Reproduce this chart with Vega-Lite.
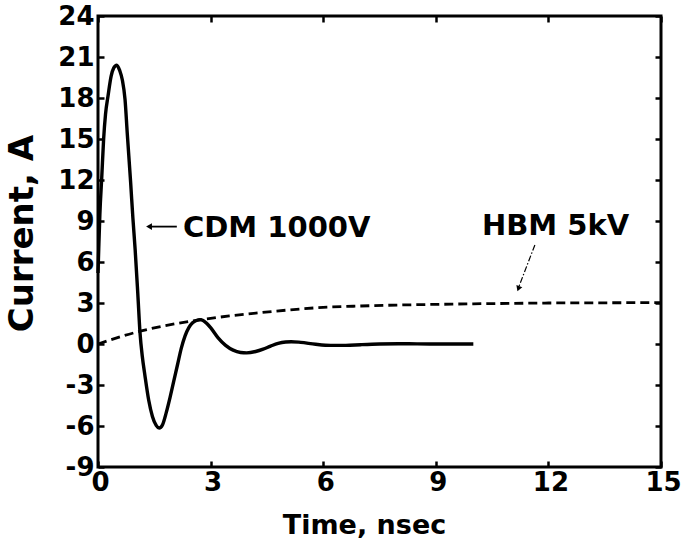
{
  "$schema": "https://vega.github.io/schema/vega-lite/v6.json",
  "width": 563,
  "height": 451,
  "autosize": {"type": "none"},
  "padding": {"left": 98, "top": 16, "right": 20, "bottom": 83},
  "background": "white",
  "config": {
    "view": {"stroke": "black", "strokeWidth": 3},
    "axis": {
      "labelFont": "DejaVu Sans",
      "labelFontWeight": "bold",
      "labelFontSize": 26,
      "labelColor": "black",
      "titleFont": "DejaVu Sans",
      "titleFontWeight": "bold",
      "titleColor": "black",
      "grid": false,
      "domain": false,
      "tickColor": "black",
      "tickWidth": 2.5,
      "tickSize": -6
    }
  },
  "datasets": {
    "cdm": [
      {"t": 0, "i": 5.2}, {"t": 0.02, "i": 7.0}, {"t": 0.05, "i": 9.5}, {"t": 0.1, "i": 12.2},
      {"t": 0.15, "i": 15.0}, {"t": 0.2, "i": 16.8}, {"t": 0.27, "i": 18.2}, {"t": 0.35, "i": 19.6},
      {"t": 0.42, "i": 20.2}, {"t": 0.5, "i": 20.4}, {"t": 0.58, "i": 20.0}, {"t": 0.65, "i": 19.3},
      {"t": 0.72, "i": 17.9}, {"t": 0.78, "i": 15.4}, {"t": 0.87, "i": 11.8}, {"t": 0.93, "i": 9.2},
      {"t": 0.99, "i": 6.9}, {"t": 1.06, "i": 3.7}, {"t": 1.12, "i": 0.8}, {"t": 1.18, "i": -0.9},
      {"t": 1.25, "i": -2.3}, {"t": 1.35, "i": -4.1}, {"t": 1.45, "i": -5.3}, {"t": 1.55, "i": -5.95},
      {"t": 1.63, "i": -6.15}, {"t": 1.72, "i": -5.9}, {"t": 1.82, "i": -5.0}, {"t": 1.92, "i": -3.9},
      {"t": 2.02, "i": -2.7}, {"t": 2.12, "i": -1.5}, {"t": 2.22, "i": -0.3}, {"t": 2.32, "i": 0.6},
      {"t": 2.42, "i": 1.2}, {"t": 2.52, "i": 1.55}, {"t": 2.62, "i": 1.72}, {"t": 2.72, "i": 1.78},
      {"t": 2.8, "i": 1.72}, {"t": 2.9, "i": 1.5}, {"t": 3.0, "i": 1.2}, {"t": 3.2, "i": 0.45},
      {"t": 3.4, "i": -0.1}, {"t": 3.6, "i": -0.45}, {"t": 3.8, "i": -0.62}, {"t": 3.96, "i": -0.65},
      {"t": 4.2, "i": -0.55}, {"t": 4.4, "i": -0.38}, {"t": 4.6, "i": -0.15}, {"t": 4.8, "i": 0.05},
      {"t": 5.0, "i": 0.15}, {"t": 5.15, "i": 0.17}, {"t": 5.4, "i": 0.12}, {"t": 5.8, "i": -0.02},
      {"t": 6.2, "i": -0.1}, {"t": 6.6, "i": -0.1}, {"t": 7.0, "i": -0.05}, {"t": 7.5, "i": 0.0},
      {"t": 8.0, "i": 0.02}, {"t": 8.5, "i": 0.01}, {"t": 9.0, "i": 0.0}, {"t": 10.0, "i": 0.0}
    ],
    "hbm": [
      {"t": 0, "i": 0}, {"t": 0.5, "i": 0.45}, {"t": 1, "i": 0.85}, {"t": 1.5, "i": 1.18},
      {"t": 2, "i": 1.45}, {"t": 2.5, "i": 1.68}, {"t": 3, "i": 1.88}, {"t": 3.5, "i": 2.05},
      {"t": 4, "i": 2.2}, {"t": 5, "i": 2.47}, {"t": 6, "i": 2.68}, {"t": 7, "i": 2.78},
      {"t": 8, "i": 2.85}, {"t": 9, "i": 2.9}, {"t": 10, "i": 2.94}, {"t": 11, "i": 2.97},
      {"t": 12, "i": 3.0}, {"t": 13, "i": 3.01}, {"t": 14, "i": 3.02}, {"t": 15, "i": 3.03}
    ],
    "labels": [
      {"t": 2.265, "i": 7.83, "label": "CDM 1000V"},
      {"t": 10.23, "i": 7.98, "label": "HBM 5kV"}
    ],
    "arrows": [
      {"t": 1.36, "i": 8.59, "t2": 2.1, "i2": 8.59, "kind": "cdm"},
      {"t": 11.64, "i": 7.25, "t2": 11.2, "i2": 4.1, "kind": "hbm"}
    ],
    "heads": [
      {"t": 1.36, "i": 8.59, "dir": "left"},
      {"t": 11.2, "i": 4.05, "dir": "down"}
    ]
  },
  "layer": [
    {
      "data": {"name": "cdm"},
      "mark": {"type": "line", "color": "black", "strokeWidth": 3.4, "interpolate": "monotone"},
      "encoding": {
        "x": {
          "field": "t", "type": "quantitative",
          "scale": {"domain": [0, 15], "nice": false, "zero": false},
          "axis": {
            "orient": "bottom", "values": [0, 3, 6, 9, 12, 15],
            "title": "Time, nsec", "titleFontSize": 27,
            "titleBaseline": "alphabetic", "titleX": 266, "titleY": 66,
            "labelPadding": 8, "labelFlush": false, "labelOffset": 2
          }
        },
        "y": {
          "field": "i", "type": "quantitative",
          "scale": {"domain": [-9, 24], "nice": false, "zero": false},
          "axis": {
            "orient": "left", "values": [-9, -6, -3, 0, 3, 6, 9, 12, 15, 18, 21, 24],
            "labelExpr": "'' + datum.value",
            "title": "Current, A", "titleFontSize": 34,
            "titleBaseline": "alphabetic", "titleX": -66, "titleY": 217, "titleAngle": -90,
            "labelPadding": 10, "labelFlush": false
          }
        }
      }
    },
    {
      "data": {"name": "hbm"},
      "mark": {"type": "line", "color": "black", "strokeWidth": 2.8, "strokeDash": [9, 5], "interpolate": "monotone"},
      "encoding": {
        "x": {
          "field": "t", "type": "quantitative",
          "axis": {"orient": "top", "values": [0, 3, 6, 9, 12, 15], "labels": false, "title": null}
        },
        "y": {
          "field": "i", "type": "quantitative",
          "axis": {"orient": "right", "values": [-9, -6, -3, 0, 3, 6, 9, 12, 15, 18, 21, 24], "labels": false, "title": null}
        }
      }
    },
    {
      "data": {"name": "labels"},
      "mark": {"type": "text", "color": "black", "font": "DejaVu Sans", "fontWeight": "bold", "fontSize": 29, "align": "left", "baseline": "alphabetic"},
      "encoding": {
        "x": {"field": "t", "type": "quantitative", "axis": null},
        "y": {"field": "i", "type": "quantitative", "axis": null},
        "text": {"field": "label"}
      }
    },
    {
      "data": {"name": "arrows"},
      "transform": [{"filter": "datum.kind == 'cdm'"}],
      "mark": {"type": "rule", "color": "black", "strokeWidth": 1.8},
      "encoding": {
        "x": {"field": "t", "type": "quantitative", "axis": null},
        "y": {"field": "i", "type": "quantitative", "axis": null},
        "x2": {"field": "t2"},
        "y2": {"field": "i2"}
      }
    },
    {
      "data": {"name": "arrows"},
      "transform": [{"filter": "datum.kind == 'hbm'"}],
      "mark": {"type": "rule", "color": "black", "strokeWidth": 1.2, "strokeDash": [6, 2, 1.5, 2]},
      "encoding": {
        "x": {"field": "t", "type": "quantitative", "axis": null},
        "y": {"field": "i", "type": "quantitative", "axis": null},
        "x2": {"field": "t2"},
        "y2": {"field": "i2"}
      }
    },
    {
      "data": {"name": "heads"},
      "transform": [{"filter": "datum.dir == 'left'"}],
      "mark": {"type": "point", "shape": "triangle-left", "filled": true, "color": "black", "size": 45, "opacity": 1},
      "encoding": {
        "x": {"field": "t", "type": "quantitative", "axis": null},
        "y": {"field": "i", "type": "quantitative", "axis": null}
      }
    },
    {
      "data": {"name": "heads"},
      "transform": [{"filter": "datum.dir == 'down'"}],
      "mark": {"type": "point", "shape": "triangle-down", "filled": true, "color": "black", "size": 40, "angle": 21, "opacity": 1},
      "encoding": {
        "x": {"field": "t", "type": "quantitative", "axis": null},
        "y": {"field": "i", "type": "quantitative", "axis": null}
      }
    }
  ],
  "resolve": {"axis": {"x": "independent", "y": "independent"}}
}
